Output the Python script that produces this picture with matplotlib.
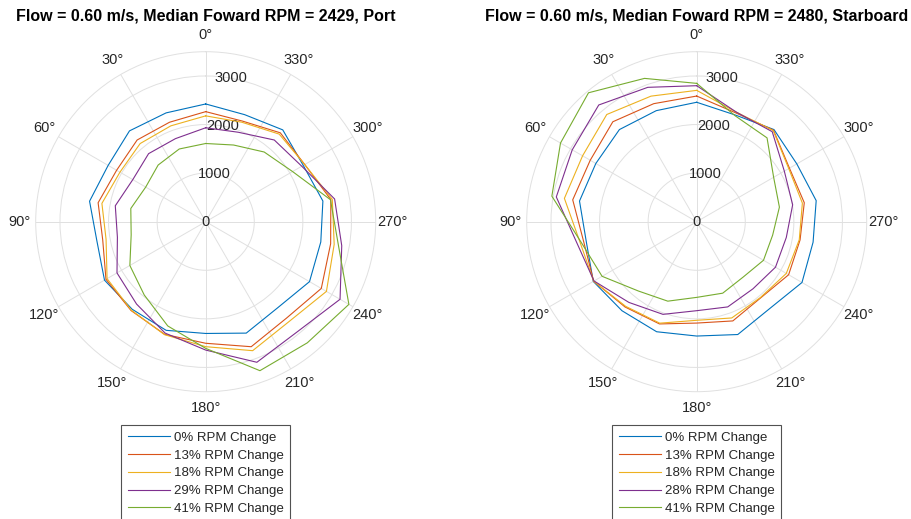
import numpy as np
import matplotlib
matplotlib.use("Agg")
import matplotlib.pyplot as plt

plt.rcParams['font.family'] = ['Liberation Sans', 'DejaVu Sans']

angles_deg = [0, 20, 40, 60, 80, 100, 120, 140, 160, 180, 200, 220, 240, 260, 280, 300, 320, 340]

port_labels = ["0% RPM Change", "13% RPM Change", "18% RPM Change", "29% RPM Change", "41% RPM Change"]
stbd_labels = ["0% RPM Change", "13% RPM Change", "18% RPM Change", "28% RPM Change", "41% RPM Change"]

port_0 = [2424, 2384, 2441, 2319, 2428, 2275, 2406, 2354, 2380, 2301, 2441, 2310, 2468, 2406, 2450, 2319, 2468, 2345]
port_13 = [2266, 2179, 2196, 2118, 2249, 2153, 2371, 2389, 2468, 2503, 2739, 2590, 2748, 2612, 2616, 2354, 2389, 2205]
port_18 = [2179, 2100, 2100, 2039, 2170, 2083, 2345, 2380, 2476, 2573, 2826, 2678, 2870, 2686, 2647, 2354, 2354, 2179]
port_29 = [1934, 1820, 1829, 1733, 1890, 1846, 2109, 2214, 2441, 2643, 3080, 2949, 3194, 2844, 2695, 2284, 2196, 1960]
port_41 = [1610, 1593, 1523, 1426, 1566, 1558, 1803, 1969, 2284, 2608, 3264, 3255, 3404, 2774, 2608, 2065, 1873, 1680]

stbd_0 = [2459, 2433, 2476, 2398, 2450, 2310, 2459, 2393, 2411, 2354, 2472, 2336, 2503, 2433, 2498, 2380, 2476, 2336]
stbd_13 = [2587, 2586, 2686, 2531, 2592, 2363, 2450, 2293, 2240, 2087, 2174, 2048, 2185, 2161, 2249, 2205, 2459, 2380]
stbd_18 = [2704, 2751, 2881, 2713, 2766, 2439, 2450, 2275, 2223, 2030, 2109, 2039, 2130, 2144, 2209, 2188, 2450, 2398]
stbd_28 = [2800, 2944, 3137, 2959, 2935, 2506, 2441, 2170, 2030, 1832, 1867, 1803, 1873, 1873, 2006, 2083, 2419, 2398]
stbd_41 = [2848, 3140, 3465, 3238, 3028, 2418, 2249, 1864, 1741, 1558, 1566, 1488, 1588, 1588, 1729, 1829, 2253, 2319]

port_title = "Flow = 0.60 m/s, Median Foward RPM = 2429, Port"
stbd_title = "Flow = 0.60 m/s, Median Foward RPM = 2480, Starboard"

r_ticks = [0, 1000, 2000, 3000]
r_tick_labels = ["0", "1000", "2000", "3000"]
r_max = 3500
theta_ticks = list(range(0, 360, 30))
theta_tick_labels = [f"{a}°" for a in theta_ticks]

colors = ["#0072BD", "#D95319", "#EDB120", "#7E2F8E", "#77AC30"]

fig = plt.figure(figsize=(9.11, 5.19), dpi=100)
W, H = 911, 519
R = 170
centers = [(205.7, 221.7), (696.7, 221.7)]

datasets = [
    (port_title, [port_0, port_13, port_18, port_29, port_41], port_labels),
    (stbd_title, [stbd_0, stbd_13, stbd_18, stbd_28, stbd_41], stbd_labels),
]

txtc = "#262626"
gridc = "#e0e0e0"

for (cx, cy), (title, series, labels) in zip(centers, datasets):
    ax = fig.add_axes([(cx - R) / W, (H - cy - R) / H, 2 * R / W, 2 * R / H], projection='polar')
    ax.set_theta_zero_location('N')
    ax.set_theta_direction(1)
    th = np.deg2rad(angles_deg + [angles_deg[0]])
    for s, c, lab in zip(series, colors, labels):
        ax.plot(th, list(s) + [s[0]], color=c, lw=0.8, label=lab)
    ax.set_ylim(0, r_max)
    ax.set_yticks(r_ticks)
    ax.set_yticklabels(r_tick_labels, fontsize=10.5, color=txtc)
    ax.set_rlabel_position(350)
    for t in ax.get_yticklabels():
        t.set_ha('center')
        t.set_va('center')
    ax.set_thetagrids(theta_ticks, labels=theta_tick_labels, fontsize=10.5, color=txtc)
    ax.tick_params(axis='x', pad=1.5)
    ax.grid(True, color=gridc, lw=0.7)
    ax.spines['polar'].set_color(gridc)
    ax.spines['polar'].set_linewidth(0.7)
    fig.text(cx / W, 1 - 16 / H, title, fontsize=11.5, fontweight='bold',
             color='black', ha='center', va='center')
    leg = ax.legend(loc='upper center', bbox_to_anchor=(cx / W, 1 - 425 / H),
                    bbox_transform=fig.transFigure, fontsize=9.5, frameon=True,
                    fancybox=False, edgecolor=txtc, handlelength=3.2,
                    handletextpad=0.3, labelspacing=0.42, borderpad=0.5,
                    borderaxespad=0)
    leg.get_frame().set_linewidth(0.8)
    for t in leg.get_texts():
        t.set_color(txtc)

fig.savefig("out.png", dpi=100)
